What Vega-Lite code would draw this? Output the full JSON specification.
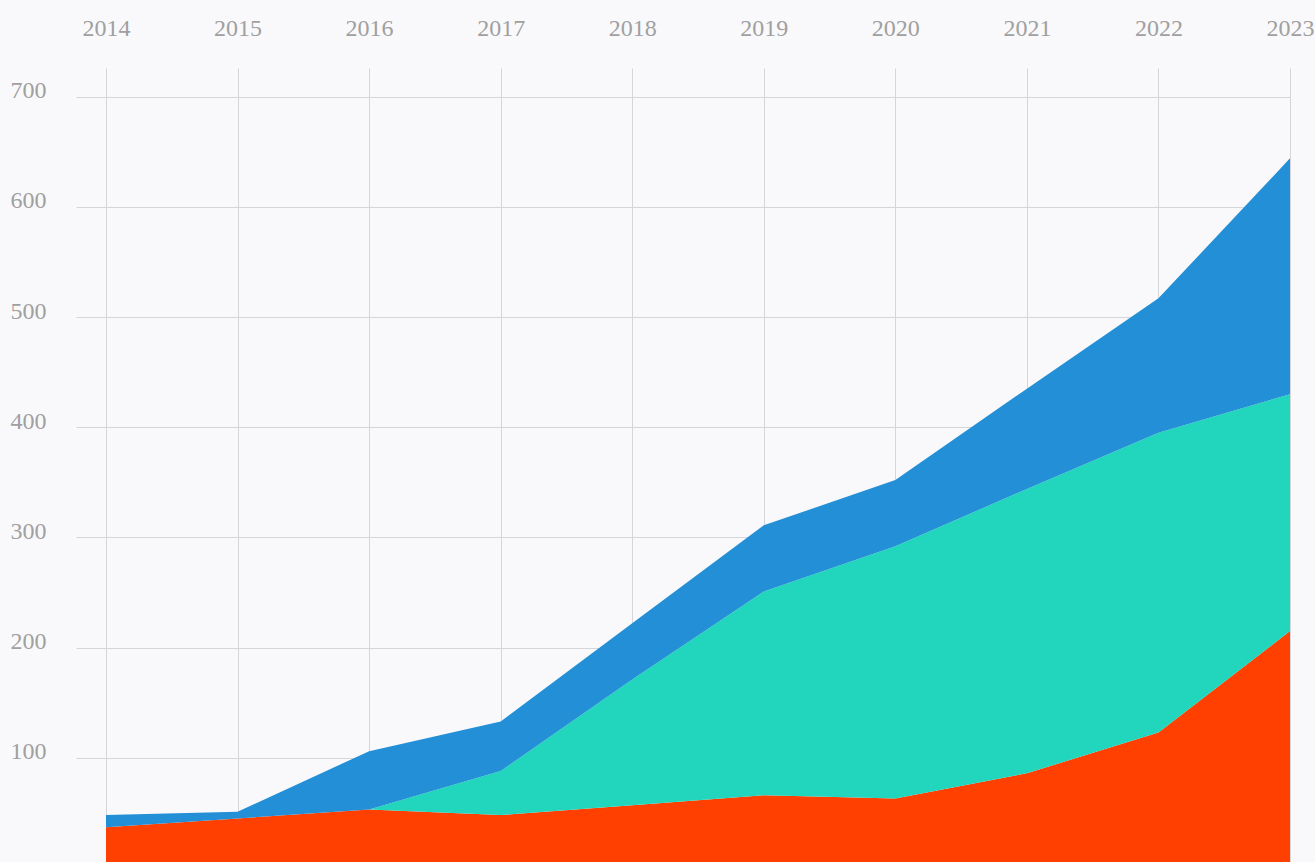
{
  "$schema": "https://vega.github.io/schema/vega-lite/v6.json",
  "width": 1214,
  "height": 800,
  "autosize": {"type": "none"},
  "padding": {"left": 76, "top": 68, "right": 25, "bottom": 0},
  "background": "#f9f9fb",
  "config": {
    "view": {"stroke": null},
    "font": "Liberation Serif",
    "axis": {
      "labelFont": "Liberation Serif",
      "labelFontSize": 24,
      "labelColor": "#a0a0a0",
      "gridColor": "#d6d6da",
      "gridWidth": 1,
      "domain": false,
      "ticks": false,
      "title": null
    }
  },
  "data": {
    "values": [
      {"year": 2014, "series": "A", "value": 37},
      {"year": 2015, "series": "A", "value": 45},
      {"year": 2016, "series": "A", "value": 53},
      {"year": 2017, "series": "A", "value": 48},
      {"year": 2018, "series": "A", "value": 57},
      {"year": 2019, "series": "A", "value": 66},
      {"year": 2020, "series": "A", "value": 63},
      {"year": 2021, "series": "A", "value": 86},
      {"year": 2022, "series": "A", "value": 123},
      {"year": 2023, "series": "A", "value": 215},
      {"year": 2014, "series": "B", "value": 0},
      {"year": 2015, "series": "B", "value": 0},
      {"year": 2016, "series": "B", "value": 0},
      {"year": 2017, "series": "B", "value": 40},
      {"year": 2018, "series": "B", "value": 114},
      {"year": 2019, "series": "B", "value": 185},
      {"year": 2020, "series": "B", "value": 229},
      {"year": 2021, "series": "B", "value": 258},
      {"year": 2022, "series": "B", "value": 272},
      {"year": 2023, "series": "B", "value": 215},
      {"year": 2014, "series": "C", "value": 11},
      {"year": 2015, "series": "C", "value": 6},
      {"year": 2016, "series": "C", "value": 53},
      {"year": 2017, "series": "C", "value": 45},
      {"year": 2018, "series": "C", "value": 51},
      {"year": 2019, "series": "C", "value": 60},
      {"year": 2020, "series": "C", "value": 60},
      {"year": 2021, "series": "C", "value": 91},
      {"year": 2022, "series": "C", "value": 122},
      {"year": 2023, "series": "C", "value": 214}
    ]
  },
  "mark": {"type": "area", "interpolate": "linear"},
  "encoding": {
    "x": {
      "field": "year",
      "type": "quantitative",
      "scale": {"domain": [2013.772, 2023], "nice": false, "zero": false},
      "axis": {
        "orient": "top",
        "values": [2014, 2015, 2016, 2017, 2018, 2019, 2020, 2021, 2022, 2023],
        "format": "d",
        "labelBaseline": "alphabetic",
        "labelPadding": 33,
        "labelOverlap": false,
        "labelBound": false,
        "labelFlush": false,
        "grid": true
      }
    },
    "y": {
      "field": "value",
      "type": "quantitative",
      "stack": "zero",
      "scale": {"domain": [0, 726], "nice": false},
      "axis": {
        "orient": "left",
        "values": [100, 200, 300, 400, 500, 600, 700],
        "labelAlign": "left",
        "labelBaseline": "alphabetic",
        "labelPadding": 66,
        "labelOffset": 1,
        "grid": true
      }
    },
    "color": {
      "field": "series",
      "type": "nominal",
      "scale": {"domain": ["A", "B", "C"], "range": ["#ff4000", "#21d6bd", "#228fd6"]},
      "legend": null
    },
    "order": {"field": "series", "sort": "ascending"}
  }
}
